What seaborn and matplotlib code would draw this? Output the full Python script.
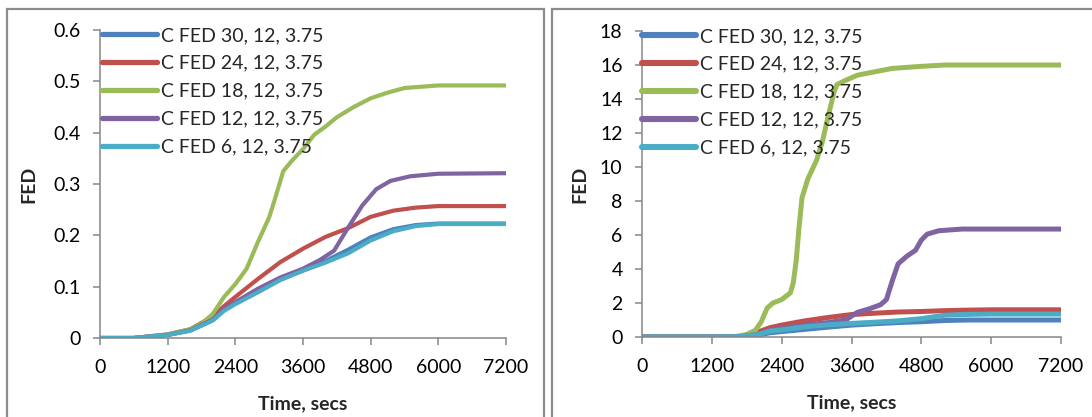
import matplotlib
matplotlib.use("Agg")
import matplotlib.pyplot as plt
from matplotlib.patches import Rectangle
import pandas as pd
import seaborn as sns

# series names and colours (Excel 2007 palette)
series = ["C FED 30, 12, 3.75", "C FED 24, 12, 3.75", "C FED 18, 12, 3.75",
          "C FED 12, 12, 3.75", "C FED 6, 12, 3.75"]
colors = ["#4F81BD", "#C0504D", "#9BBB59", "#8064A2", "#4BACC6"]

# ---- left panel ----
t_l_std = [0, 600, 1200, 1600, 2000, 2200, 2400, 2800, 3200, 3600, 4000, 4400, 4800, 5200, 5600, 6000, 7200]
fed_l_30 = [0, 0, 0.006, 0.015, 0.035, 0.055, 0.068, 0.092, 0.114, 0.132, 0.150, 0.172, 0.196, 0.212, 0.220, 0.223, 0.223]
fed_l_24 = [0, 0, 0.007, 0.017, 0.042, 0.062, 0.080, 0.115, 0.148, 0.174, 0.197, 0.214, 0.236, 0.248, 0.254, 0.257, 0.257]
fed_l_6 = [0, 0, 0.006, 0.014, 0.034, 0.053, 0.066, 0.089, 0.113, 0.131, 0.147, 0.165, 0.190, 0.208, 0.218, 0.222, 0.222]
t_l_18 = [0, 600, 1200, 1600, 1800, 2000, 2200, 2400, 2600, 2800, 3000, 3100, 3250, 3400, 3600, 3800,
          4000, 4200, 4500, 4800, 5100, 5400, 6000, 7200]
fed_l_18 = [0, 0, 0.007, 0.017, 0.028, 0.047, 0.080, 0.105, 0.135, 0.187, 0.235, 0.270, 0.325, 0.345,
            0.368, 0.396, 0.412, 0.430, 0.450, 0.467, 0.478, 0.487, 0.492, 0.492]
t_l_12 = [0, 600, 1200, 1600, 2000, 2200, 2400, 2800, 3200, 3600, 3900, 4150, 4400, 4650, 4900, 5150, 5500, 6000, 7200]
fed_l_12 = [0, 0, 0.006, 0.015, 0.036, 0.056, 0.070, 0.096, 0.118, 0.135, 0.152, 0.170, 0.215, 0.258,
            0.290, 0.306, 0.315, 0.320, 0.321]

# ---- right panel ----
t_r_std = [0, 1200, 1700, 2000, 2200, 2400, 2800, 3200, 3600, 4000, 4400, 4800, 5200, 5600, 6000, 7200]
fed_r_30 = [0, 0, 0.02, 0.12, 0.25, 0.32, 0.45, 0.58, 0.70, 0.78, 0.85, 0.90, 0.97, 1.00, 1.00, 1.00]
fed_r_24 = [0, 0, 0.03, 0.30, 0.55, 0.70, 0.95, 1.15, 1.32, 1.40, 1.47, 1.50, 1.55, 1.58, 1.60, 1.60]
fed_r_6 = [0, 0, 0.02, 0.15, 0.35, 0.42, 0.60, 0.72, 0.80, 0.87, 0.95, 1.08, 1.28, 1.33, 1.35, 1.35]
t_r_18 = [0, 1200, 1600, 1800, 1950, 2050, 2150, 2250, 2400, 2550, 2600, 2650, 2700, 2750, 2850, 3000,
          3100, 3200, 3300, 3350, 3500, 3700, 4000, 4300, 4800, 5200, 6000, 7200]
fed_r_18 = [0, 0, 0.02, 0.15, 0.4, 0.9, 1.7, 2.0, 2.2, 2.6, 3.2, 4.5, 6.5, 8.2, 9.3, 10.4,
            11.5, 13.0, 14.4, 14.85, 15.1, 15.4, 15.6, 15.8, 15.92, 16.0, 16.0, 16.0]
t_r_12 = [0, 1200, 1700, 2000, 2200, 2400, 2800, 3200, 3500, 3700, 3900, 4100, 4200, 4300, 4400,
          4550, 4700, 4800, 4900, 5100, 5500, 6000, 7200]
fed_r_12 = [0, 0, 0.02, 0.15, 0.4, 0.5, 0.7, 0.85, 1.0, 1.45, 1.65, 1.9, 2.2, 3.3, 4.3,
            4.75, 5.1, 5.7, 6.05, 6.25, 6.35, 6.35, 6.35]

x_ticks = [0, 1200, 2400, 3600, 4800, 6000, 7200]


def long_frame(parts):
    frames = []
    for name, t, v in parts:
        frames.append(pd.DataFrame({"time": t, "fed": v, "series": name}))
    return pd.concat(frames, ignore_index=True)


df_left = long_frame([
    (series[0], t_l_std, fed_l_30),
    (series[1], t_l_std, fed_l_24),
    (series[2], t_l_18, fed_l_18),
    (series[3], t_l_12, fed_l_12),
    (series[4], t_l_std, fed_l_6),
])
df_right = long_frame([
    (series[0], t_r_std, fed_r_30),
    (series[1], t_r_std, fed_r_24),
    (series[2], t_r_18, fed_r_18),
    (series[3], t_r_12, fed_r_12),
    (series[4], t_r_std, fed_r_6),
])

sns.set_style("ticks")
plt.rcParams["font.family"] = ["Lato", "DejaVu Sans"]
fs = 14

fig = plt.figure(figsize=(10.92, 4.17), dpi=100)

# chart-area borders
for x0, w in [(7 / 1092, 537 / 1092), (552 / 1092, 560 / 1092)]:
    fig.add_artist(Rectangle((x0, -0.2), w, 1.2 - 9 / 417, transform=fig.transFigure,
                             fill=False, edgecolor="#8c8c8c", linewidth=1.6))

ax_l = fig.add_axes([100 / 1092, 79 / 417, 406 / 1092, 308 / 417])
ax_r = fig.add_axes([642 / 1092, 80 / 417, 419 / 1092, 306 / 417])

gray = "#868686"
panels = [
    (ax_l, df_left, 0.6, [0, 0.1, 0.2, 0.3, 0.4, 0.5, 0.6], 3.0, 0.006),
    (ax_r, df_right, 18, list(range(0, 19, 2)), 3.6, 0.0),
]
for ax, df, ymax, yticks, lw, legx in panels:
    sns.lineplot(data=df, x="time", y="fed", hue="series", hue_order=series,
                 palette=colors, linewidth=lw, errorbar=None, ax=ax)
    for ln in ax.get_lines():
        ln.set_solid_capstyle("round")
        ln.set_solid_joinstyle("round")
    ax.set_xlim(0, 7200)
    ax.set_ylim(0, ymax)
    ax.set_xticks(x_ticks)
    ax.set_yticks(yticks)
    ax.set_xticklabels([str(v) for v in x_ticks])
    ax.set_yticklabels([f"{v:g}" for v in yticks])
    sns.despine(ax=ax)
    for side in ["left", "bottom"]:
        ax.spines[side].set_color(gray)
        ax.spines[side].set_linewidth(1.1)
    ax.tick_params(axis="both", colors=gray, labelcolor="black", length=5, width=1.1,
                   labelsize=fs)
    ax.tick_params(axis="x", pad=10)
    ax.tick_params(axis="y", pad=9)
    ax.set_xlabel("Time, secs", fontsize=fs, fontweight="bold", labelpad=14)
    ax.set_ylabel("FED", fontsize=fs, fontweight="bold")

    handles, labels = ax.get_legend_handles_labels()
    leg = ax.legend(handles, labels, loc="upper left", bbox_to_anchor=(legx, 1.01),
                    frameon=False, fontsize=fs, handlelength=2.8, handletextpad=0.2,
                    labelspacing=0.56, borderpad=0, borderaxespad=0)
    for ln in leg.get_lines():
        ln.set_linewidth(lw + 0.8)
        ln.set_solid_capstyle("round")

ax_l.yaxis.set_label_coords(-0.155, 0.5, transform=ax_l.transAxes)
ax_r.yaxis.set_label_coords(-0.129, 0.5, transform=ax_r.transAxes)

fig.savefig("out.png", dpi=100)
